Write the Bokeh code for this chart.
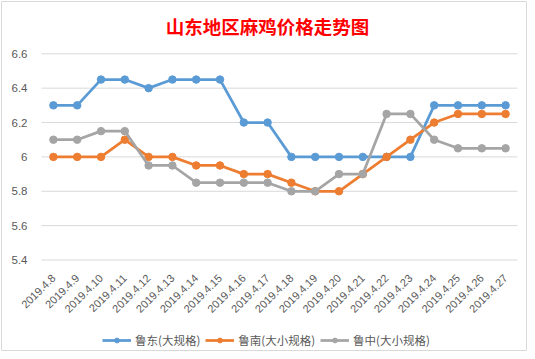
import math
from bokeh.plotting import figure
from bokeh.models import (Range1d, FixedTicker, NumeralTickFormatter, Label,
                          Legend, LegendItem, ColumnDataSource)
from bokeh.embed import file_html
from bokeh.resources import INLINE

dates = ["2019.4.8", "2019.4.9", "2019.4.10", "2019.4.11", "2019.4.12", "2019.4.13",
         "2019.4.14", "2019.4.15", "2019.4.16", "2019.4.17", "2019.4.18", "2019.4.19",
         "2019.4.20", "2019.4.21", "2019.4.22", "2019.4.23", "2019.4.24", "2019.4.25",
         "2019.4.26", "2019.4.27"]
ludong = [6.3, 6.3, 6.45, 6.45, 6.4, 6.45, 6.45, 6.45, 6.2, 6.2,
          6.0, 6.0, 6.0, 6.0, 6.0, 6.0, 6.3, 6.3, 6.3, 6.3]
lunan = [6.0, 6.0, 6.0, 6.1, 6.0, 6.0, 5.95, 5.95, 5.9, 5.9,
         5.85, 5.8, 5.8, 5.9, 6.0, 6.1, 6.2, 6.25, 6.25, 6.25]
luzhong = [6.1, 6.1, 6.15, 6.15, 5.95, 5.95, 5.85, 5.85, 5.85, 5.85,
           5.8, 5.8, 5.9, 5.9, 6.25, 6.25, 6.1, 6.05, 6.05, 6.05]
series_names = ["鲁东(大规格)", "鲁南(大小规格)", "鲁中(大小规格)"]
colors = ["#5B9BD5", "#ED7D31", "#A5A5A5"]
y_ticks = [5.4, 5.6, 5.8, 6.0, 6.2, 6.4, 6.6]
title_text = "山东地区麻鸡价格走势图"

W, H = 527, 351
# layout (pixels): category slot width, first slot centre, value-axis pixel span
slot = 23.8
first_px = 52.9
top_px, bottom_px = 53.3, 259.5
y_lo, y_hi = y_ticks[0], y_ticks[-1]
ppu = (bottom_px - top_px) / (y_hi - y_lo)
n = len(dates)
idx = list(range(n))

x_start = (1 - first_px) / slot
x_end = (n - 1) + (W - 1 - (first_px + slot * (n - 1))) / slot
y_end = y_hi + (top_px - 1) / ppu
y_start = y_lo - (H - 1 - bottom_px) / ppu

p = figure(width=W, height=H, output_backend="svg", toolbar_location=None,
           x_range=Range1d(x_start, x_end), y_range=Range1d(y_start, y_end),
           min_border_left=1, min_border_right=1, min_border_top=1, min_border_bottom=1)

p.outline_line_color = "#d9d9d9"
p.outline_line_width = 1
p.background_fill_color = "white"
p.border_fill_color = "white"
p.xgrid.grid_line_color = None
p.ygrid.grid_line_color = None

# horizontal value gridlines spanning the category area
p.segment(x0=[-0.5] * len(y_ticks), x1=[n - 0.5] * len(y_ticks), y0=y_ticks, y1=y_ticks,
          line_color="#d9d9d9", line_width=1)

p.yaxis.ticker = FixedTicker(ticks=y_ticks)
p.yaxis.formatter = NumeralTickFormatter(format="0.[0]")
p.yaxis.fixed_location = -0.5
p.xaxis.ticker = FixedTicker(ticks=idx)
p.xaxis.major_label_overrides = {i: d for i, d in zip(idx, dates)}
p.xaxis.fixed_location = y_lo

for ax in (p.xaxis, p.yaxis):
    ax.axis_line_color = None
    ax.major_tick_line_color = None
    ax.minor_tick_line_color = None
    ax.major_label_text_color = "#595959"
    ax.major_label_text_font = "Liberation Sans"
    ax.major_label_text_font_size = "11.5px"
p.xaxis.major_label_text_font_size = "11px"
p.yaxis.major_label_standoff = 8
p.xaxis.major_label_orientation = math.pi / 4
p.xaxis.major_label_standoff = 10

items = []
for name, vals, c in zip(series_names, [ludong, lunan, luzhong], colors):
    src = ColumnDataSource(dict(x=idx, y=vals))
    r1 = p.line("x", "y", source=src, line_color=c, line_width=2.75)
    r2 = p.scatter("x", "y", source=src, size=7.5, fill_color=c, line_color=c)
    items.append(LegendItem(label=name, renderers=[r1, r2]))

legend = Legend(items=items, orientation="horizontal", location=(101, 2),
                label_text_font="Noto Sans CJK SC", label_text_font_size="11.5px",
                label_text_color="#595959", glyph_width=29, glyph_height=12,
                label_height=12, spacing=5, label_standoff=4, border_line_color=None,
                background_fill_alpha=0, padding=0, margin=0)
p.add_layout(legend)

title = Label(x=266, y=H - 1 - 25.6, x_units="screen", y_units="screen", text=title_text,
              text_align="center", text_baseline="middle", text_color="#FF0000",
              text_font="Noto Sans CJK SC", text_font_size="18.5px", text_font_style="bold")
p.add_layout(title)

open("out.html", "w").write(file_html(p, INLINE))
